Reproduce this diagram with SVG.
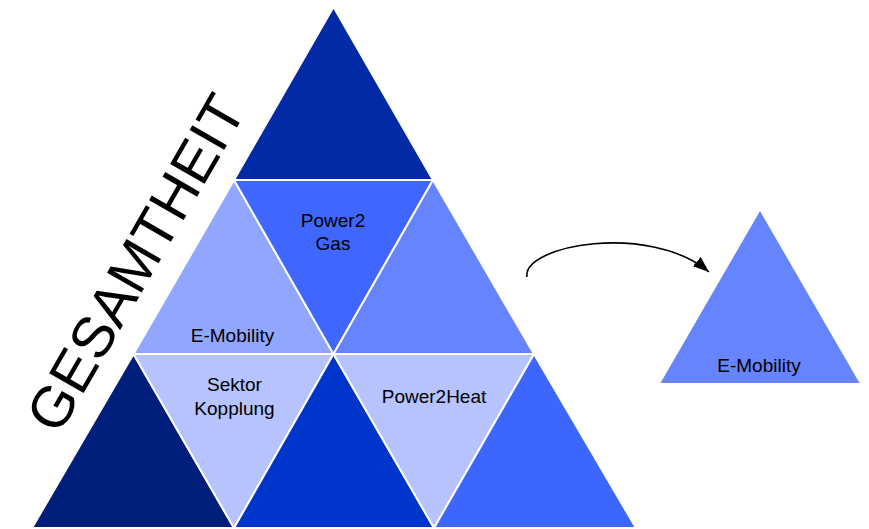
<svg xmlns="http://www.w3.org/2000/svg" width="869" height="529" viewBox="0 0 869 529">
  <style>
    .tri { stroke: #ffffff; stroke-width: 2; stroke-linejoin: miter; }
    .lbl { font-family: "Liberation Sans", Arial, sans-serif; font-size: 19px; fill: #000000; text-anchor: middle; }
    .title { font-family: "Liberation Sans", Arial, sans-serif; font-size: 58px; fill: #000000; text-anchor: middle; }
    .conn { fill: none; stroke: #000000; stroke-width: 1.6; }
  </style>
  <defs>
    <marker id="arrowhead" markerUnits="userSpaceOnUse" markerWidth="18" markerHeight="14" refX="16" refY="6" orient="auto">
      <path d="M0,0 L16,6 L0,12 Z" fill="#000000"/>
    </marker>
  </defs>

  <rect x="0" y="0" width="869" height="529" fill="#ffffff"/>

  <!-- Pyramid, top tier -->
  <g id="top">
    <polygon class="tri" points="333.5,7 234,180 433,180" fill="#022aa6"/>
  </g>

  <!-- Middle tier -->
  <g id="e-mobility">
    <polygon class="tri" points="234,180 133.5,354 333.5,354" fill="#91a6ff"/>
    <text class="lbl" x="232.5" y="342">E-Mobility</text>
  </g>
  <g id="power2gas">
    <polygon class="tri" points="234,180 433,180 333.5,354" fill="#3f66ff"/>
    <text class="lbl" x="333" y="226.5">Power2</text>
    <text class="lbl" x="333" y="250">Gas</text>
  </g>
  <g id="middle-right">
    <polygon class="tri" points="433,180 333.5,354 534,354" fill="#6784ff"/>
  </g>

  <!-- Bottom tier -->
  <g id="bottom-left">
    <polygon class="tri" points="133.5,354 32,528 234,528" fill="#001f7d"/>
  </g>
  <g id="sektor-kopplung">
    <polygon class="tri" points="133.5,354 333.5,354 234,528" fill="#b6c3ff"/>
    <text class="lbl" x="234.5" y="391">Sektor</text>
    <text class="lbl" x="234.5" y="414.5">Kopplung</text>
  </g>
  <g id="bottom-middle">
    <polygon class="tri" points="333.5,354 234,528 434,528" fill="#0035cc"/>
  </g>
  <g id="power2heat">
    <polygon class="tri" points="333.5,354 534,354 434,528" fill="#b6c3ff"/>
    <text class="lbl" x="434" y="402.5">Power2Heat</text>
  </g>
  <g id="bottom-right">
    <polygon class="tri" points="534,354 434,528 636,528" fill="#3d66ff"/>
  </g>

  <!-- Side caption along the left edge -->
  <g id="gesamtheit">
    <text class="title" transform="translate(153,273) rotate(-60)">GESAMTHEIT</text>
  </g>

  <!-- Detached single element -->
  <g id="e-mobility-detail">
    <polygon points="760,211 660.5,383 859.5,383" fill="#6784ff"/>
    <text class="lbl" x="759" y="371.5">E-Mobility</text>
  </g>

  <!-- Connectors -->
  <g id="connectors">
    <path class="conn" d="M527,277 C522,245 650,222 709,272" marker-end="url(#arrowhead)"/>
  </g>
</svg>
